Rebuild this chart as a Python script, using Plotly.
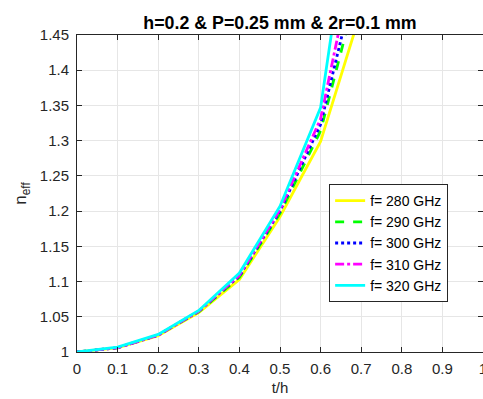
import plotly.graph_objects as go

# t/h values
t_h = [0, 0.1, 0.2, 0.3, 0.4, 0.5, 0.6, 0.7]

# effective index for each frequency
n_280 = [1.000, 1.006, 1.023, 1.056, 1.103, 1.192, 1.299, 1.485]
n_290 = [1.000, 1.006, 1.024, 1.057, 1.106, 1.197, 1.314, 1.537]
n_300 = [1.000, 1.006, 1.024, 1.058, 1.108, 1.200, 1.323, 1.563]
n_310 = [1.000, 1.006, 1.024, 1.058, 1.109, 1.202, 1.331, 1.608]
n_320 = [1.000, 1.007, 1.025, 1.059, 1.112, 1.207, 1.347, 1.740]

series_names = ["f= 280 GHz", "f= 290 GHz", "f= 300 GHz", "f= 310 GHz", "f= 320 GHz"]
series_values = [n_280, n_290, n_300, n_310, n_320]
series_colors = ["#ffff00", "#00ff00", "#0000ff", "#ff00ff", "#00ffff"]
series_dash = ["solid", "dash", "dot", "dashdot", "solid"]

x_tickvals = [0, 0.1, 0.2, 0.3, 0.4, 0.5, 0.6, 0.7, 0.8, 0.9, 1]
x_ticktext = ["0", "0.1", "0.2", "0.3", "0.4", "0.5", "0.6", "0.7", "0.8", "0.9", "1"]
y_tickvals = [1, 1.05, 1.1, 1.15, 1.2, 1.25, 1.3, 1.35, 1.4, 1.45]
y_ticktext = ["1", "1.05", "1.1", "1.15", "1.2", "1.25", "1.3", "1.35", "1.4", "1.45"]

FONT = "Liberation Sans, Arial, Helvetica, sans-serif"

fig = go.Figure()
for name, vals, col, dash in zip(series_names, series_values, series_colors, series_dash):
    fig.add_trace(go.Scatter(
        x=t_h, y=vals, mode="lines", name=name,
        line=dict(color=col, width=2.8, dash=dash),
    ))

axis_common = dict(
    showline=True, linecolor="#262626", linewidth=1, mirror="ticks",
    ticks="inside", ticklen=5, tickcolor="#262626", tickwidth=1,
    showgrid=True, gridcolor="#e6e6e6", gridwidth=1,
    zeroline=False, automargin=False, ticklabeloverflow="allow",
    tickfont=dict(family=FONT, size=15, color="#262626"),
)

fig.update_layout(
    width=483, height=399,
    margin=dict(l=77, r=0, t=35, b=47),
    paper_bgcolor="white", plot_bgcolor="white",
    font=dict(family=FONT, color="#262626"),
    title=dict(
        text="<b>h=0.2 & P=0.25 mm & 2r=0.1 mm</b>",
        x=0.5, xanchor="center", xref="paper",
        y=0.943, yanchor="middle", yref="container",
        font=dict(family=FONT, size=17.8, color="black"),
        automargin=False,
    ),
    xaxis=dict(
        range=[0, 1], tickvals=x_tickvals, ticktext=x_ticktext,
        ticklabelstandoff=3,
        title=dict(text="t/h", font=dict(family=FONT, size=15, color="#262626"), standoff=6),
        **axis_common,
    ),
    yaxis=dict(
        range=[1, 1.45], tickvals=y_tickvals, ticktext=y_ticktext,
        ticklabelstandoff=4,
        title=dict(text="n<sub>eff</sub>", font=dict(family=FONT, size=17, color="#262626"), standoff=8),
        **axis_common,
    ),
    legend=dict(
        x=0.621, y=0.53, xanchor="left", yanchor="top",
        bgcolor="white", bordercolor="#262626", borderwidth=1,
        font=dict(family=FONT, size=14, color="black"),
        tracegroupgap=0,
    ),
    showlegend=True,
)

fig.write_html(
    "out.html",
    config=dict(displayModeBar=False),
    post_script="document.body.style.margin='0px';",
)
